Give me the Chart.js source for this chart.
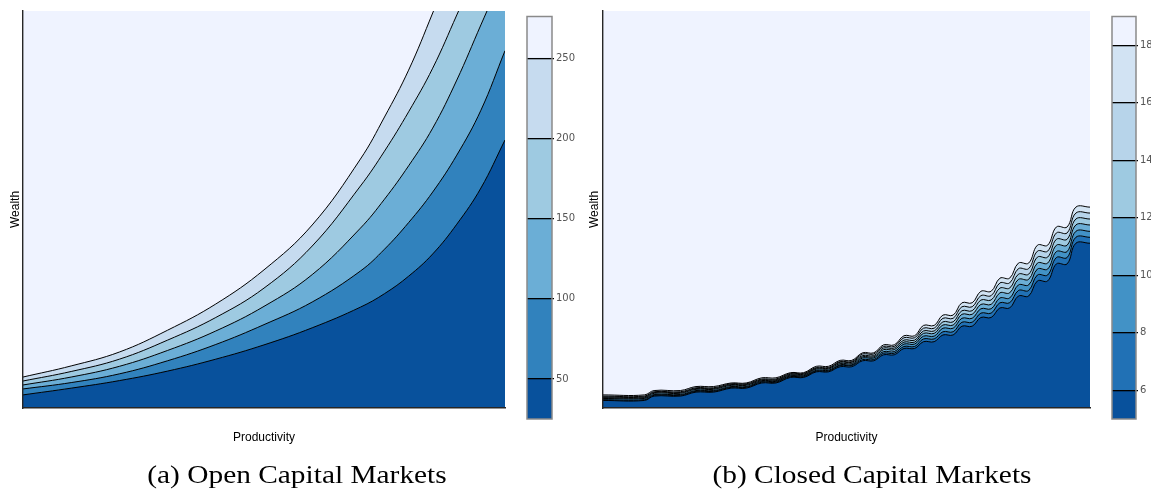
<!DOCTYPE html>
<html>
<head>
<meta charset="utf-8">
<script src="https://cdn.jsdelivr.net/npm/chart.js@4.4.1/dist/chart.umd.min.js"></script>
<style>
  html, body { margin: 0; padding: 0; background: #fff; width: 1151px; height: 491px; overflow: hidden; }
  canvas { position: absolute; top: 0; }
  .caption { position: absolute; top: 458px; font-family: "Liberation Serif", "Times New Roman", serif; font-size: 26px; line-height: 34px; color: #000; white-space: nowrap; transform: translateX(-50%) scaleX(1.13); }
</style>
</head>
<body>
<canvas id="openPlot" width="520" height="460" style="left:0px"></canvas>
<canvas id="openBar" width="70" height="440" style="left:512px"></canvas>
<canvas id="closedPlot" width="530" height="460" style="left:578px"></canvas>
<canvas id="closedBar" width="69" height="440" style="left:1097px"></canvas>
<div class="caption" style="left:297px">(a) Open Capital Markets</div>
<div class="caption" style="left:872px">(b) Closed Capital Markets</div>
<script>
// ---- Open capital markets: contour lines of the value function ----
const openProductivity = [0, 10, 20, 30, 40, 50, 60, 70, 75, 80, 85, 90, 95, 100];
const openWealth50  = [3.3, 5.0, 6.9, 9.3, 12.3, 15.9, 20.2, 25.4, 28.8, 33.2, 38.8, 46.3, 55.4, 67.5];
const openWealth100 = [4.8, 6.4, 8.6, 11.9, 16.0, 21.0, 26.7, 34.5, 40.0, 46.7, 54.4, 63.7, 75.0, 90.0];
const openWealth150 = [5.8, 7.8, 10.5, 14.5, 19.4, 25.6, 33.6, 45.3, 52.6, 61.0, 70.5, 82.6, 96.5, 110.3];
const openWealth200 = [6.8, 9.2, 12.3, 17.1, 22.8, 30.2, 40.8, 55.9, 64.7, 74.6, 85.6, 99.0, 112.8, 127.2];
const openWealth250 = [7.8, 10.6, 14.1, 19.6, 26.2, 34.8, 46.1, 62.7, 73.3, 85.1, 99.5, 114.6, 131.0, 148.6];
const openLevels = [25, 50, 100, 150, 200, 250, 276];
const openColors = ['#08519c', '#3182bd', '#6baed6', '#9ecae1', '#c6dbef', '#eff3ff'];
const openTicks = [50, 100, 150, 200, 250];

// ---- Closed capital markets: stepped contour lines (flat stretches between risers) ----
const closedFlatFrom = [0, 10.5, 19.1, 26.3, 32.6, 38.5, 43.8, 48.7, 53.3, 57.6, 61.8, 65.8, 69.8, 73.7, 77.6, 81.5, 85.3, 89.2, 93.1, 97.1];
const closedFlatTo   = [8.5, 15.9, 22.7, 29.4, 35.5, 41.2, 46.3, 51.1, 55.6, 59.8, 64.0, 68.0, 71.9, 75.8, 79.7, 83.5, 87.4, 91.3, 95.3, 100];
const closedWealth6  = [1.9, 3.0, 4.0, 5.0, 6.3, 7.7, 9.1, 10.4, 11.9, 13.4, 15.0, 16.7, 18.4, 20.6, 22.8, 25.2, 28.2, 32.0, 36.3, 41.5];
const closedWealth8  = [2.1, 3.2, 4.2, 5.2, 6.5, 7.9, 9.3, 10.7, 12.2, 13.8, 15.5, 17.4, 19.2, 21.6, 23.9, 26.5, 29.6, 33.5, 37.9, 43.0];
const closedWealth10 = [2.4, 3.4, 4.4, 5.4, 6.7, 8.1, 9.5, 10.9, 12.6, 14.2, 16.1, 18.1, 20.1, 22.6, 25.0, 27.7, 31.0, 35.0, 39.4, 44.5];
const closedWealth12 = [2.6, 3.7, 4.7, 5.7, 6.9, 8.3, 9.8, 11.2, 12.9, 14.7, 16.6, 18.8, 20.9, 23.6, 26.1, 29.0, 32.4, 36.5, 41.0, 46.1];
const closedWealth14 = [2.8, 3.9, 4.9, 5.9, 7.1, 8.5, 10.0, 11.5, 13.2, 15.1, 17.1, 19.4, 21.7, 24.5, 27.2, 30.2, 33.7, 38.0, 42.5, 47.6];
const closedWealth16 = [3.0, 4.1, 5.1, 6.1, 7.3, 8.7, 10.2, 11.7, 13.6, 15.5, 17.7, 20.1, 22.6, 25.5, 28.3, 31.5, 35.1, 39.5, 44.1, 49.1];
const closedWealth18 = [3.3, 4.4, 5.4, 6.3, 7.6, 8.9, 10.5, 12.0, 13.9, 15.9, 18.2, 20.8, 23.4, 26.5, 29.4, 32.7, 36.5, 41.0, 45.6, 50.6];
const closedLevels = [5, 6, 8, 10, 12, 14, 16, 18, 19];
const closedColors = ['#08519c', '#2171b5', '#4292c6', '#6baed6', '#9ecae1', '#b7d4ea', '#d2e3f3', '#eff3ff'];
const closedTicks = [6, 8, 10, 12, 14, 16, 18];

const sansFont = '"Liberation Sans", Arial, sans-serif';

// Fills the plotting area with the colour of the highest band.
const plotBackground = {
  id: 'plotBackground',
  beforeDraw(chart, args, opts) {
    const { ctx, chartArea: a } = chart;
    ctx.save();
    ctx.fillStyle = opts.color;
    ctx.fillRect(a.left, a.top, a.right - a.left, a.bottom - a.top);
    ctx.restore();
  }
};

// Grey frame around a colour bar.
const barFrame = {
  id: 'barFrame',
  afterDraw(chart) {
    const { ctx, chartArea: a } = chart;
    ctx.save();
    ctx.strokeStyle = '#8a8a8a';
    ctx.lineWidth = 1.5;
    ctx.strokeRect(a.left, a.top, a.right - a.left, a.bottom - a.top);
    ctx.restore();
  }
};

function linePoints(xs, ys) {
  return xs.map((x, i) => ({ x: x, y: ys[i] }));
}

function stepPoints(from, to, ys) {
  const pts = [];
  ys.forEach((y, k) => { pts.push({ x: from[k], y: y }); pts.push({ x: to[k], y: y }); });
  return pts;
}

function contourChart(id, lines, colors, layoutPad, yTitlePad, curve) {
  const datasets = lines.map((pts, i) => Object.assign({
    data: pts,
    borderColor: '#000',
    borderWidth: 1,
    pointRadius: 0,
    fill: 'start',
    backgroundColor: colors[i]
  }, curve));
  return new Chart(document.getElementById(id), {
    type: 'line',
    data: { datasets: datasets },
    plugins: [plotBackground],
    options: {
      responsive: false,
      animation: false,
      devicePixelRatio: 1,
      layout: { padding: layoutPad },
      plugins: {
        legend: { display: false },
        tooltip: { enabled: false },
        filler: { drawTime: 'beforeDatasetsDraw' },
        plotBackground: { color: colors[colors.length - 1] }
      },
      scales: {
        x: {
          type: 'linear', min: 0, max: 100,
          grid: { display: false, drawTicks: false },
          ticks: { display: false },
          border: { display: true, color: '#262626', width: 1.4, z: 1 },
          title: { display: true, text: 'Productivity', color: '#000',
                   font: { family: sansFont, size: 12 }, padding: { top: 22.8, bottom: 0 } }
        },
        y: {
          type: 'linear', min: 0, max: 100,
          grid: { display: false, drawTicks: false },
          ticks: { display: false },
          border: { display: true, color: '#262626', width: 1.4, z: 1 },
          title: { display: true, text: 'Wealth', color: '#000',
                   font: { family: sansFont, size: 12 }, padding: yTitlePad }
        }
      }
    }
  });
}

function colorBar(id, levels, colors, ticks) {
  const datasets = colors.map((c, i) => ({
    data: [[levels[i], levels[i + 1]]],
    backgroundColor: c,
    borderWidth: 0,
    barPercentage: 1,
    categoryPercentage: 1,
    grouped: false
  }));
  return new Chart(document.getElementById(id), {
    type: 'bar',
    data: { labels: [''], datasets: datasets },
    plugins: [barFrame],
    options: {
      responsive: false,
      animation: false,
      devicePixelRatio: 1,
      layout: { padding: { left: 15, top: 16.5, bottom: 21, right: 0 } },
      plugins: { legend: { display: false }, tooltip: { enabled: false } },
      scales: {
        x: { display: false },
        y: {
          position: 'right',
          min: levels[0], max: levels[levels.length - 1],
          afterBuildTicks: s => { s.ticks = ticks.map(v => ({ value: v })); },
          afterFit: s => { s.width = 30; },
          grid: { color: '#000', lineWidth: 1.3, drawTicks: true, tickLength: 2, drawOnChartArea: true, z: 1 },
          border: { display: false },
          ticks: { color: '#555', padding: 2, font: { family: '"DejaVu Sans", sans-serif', size: 10 } }
        }
      }
    }
  });
}

const openLines = [openWealth50, openWealth100, openWealth150, openWealth200, openWealth250]
  .map(ys => linePoints(openProductivity, ys));
contourChart('openPlot', openLines, openColors,
  { top: 11, right: 15, left: 0, bottom: 14.8 }, { top: 8.6, bottom: 0 },
  { tension: 0.4 });
colorBar('openBar', openLevels, openColors, openTicks);

const closedLines = [closedWealth6, closedWealth8, closedWealth10, closedWealth12,
                     closedWealth14, closedWealth16, closedWealth18]
  .map(ys => stepPoints(closedFlatFrom, closedFlatTo, ys));
contourChart('closedPlot', closedLines, closedColors,
  { top: 11, right: 18, left: 0, bottom: 14.8 }, { top: 9.8, bottom: 0.8 },
  { tension: 0.4 });
colorBar('closedBar', closedLevels, closedColors, closedTicks);
</script>
</body>
</html>
